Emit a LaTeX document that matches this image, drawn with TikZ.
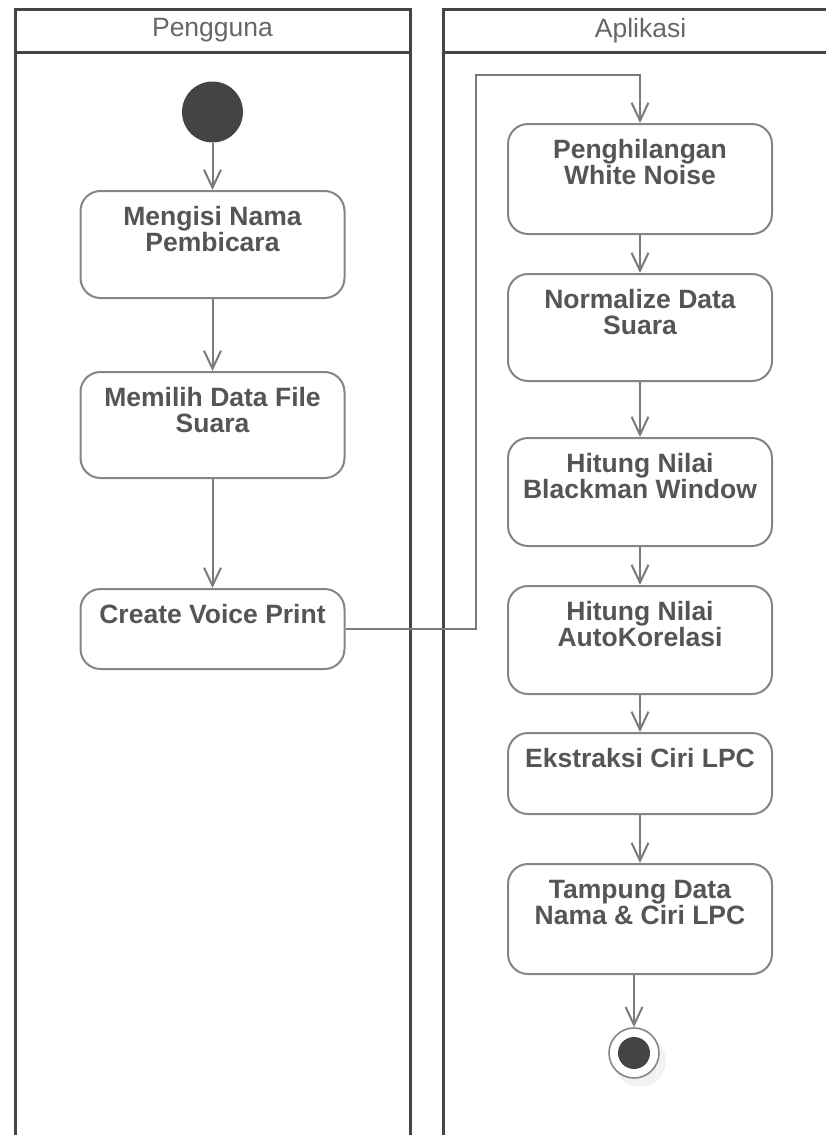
\documentclass[tikz,border=0pt]{standalone}
\usepackage{fontspec}
\setmainfont{Liberation Sans}
\usetikzlibrary{arrows.meta}
\definecolor{lanec}{HTML}{454545}
\definecolor{boxc}{HTML}{858585}
\definecolor{txtc}{HTML}{555555}
\definecolor{hdrc}{HTML}{666666}
\definecolor{arrc}{HTML}{7A7A7A}
\definecolor{dotc}{HTML}{444444}
\newcommand{\acttext}[3]{\parbox[t][#1][t]{#2}{\centering\rule{0pt}{34pt}#3}}
\begin{document}
\begin{tikzpicture}[x=1pt,y=-1pt,
  lane/.style={draw=lanec,line width=3pt},
  lanehead/.style={draw=lanec,line width=3pt,minimum width=395pt,minimum height=43pt,inner sep=0pt,
    text=hdrc,font=\fontsize{26.5}{26.5}\selectfont},
  act/.style={draw=boxc,line width=2pt,rounded corners=20pt,inner sep=0pt,fill=white,
    text=txtc,font=\fontsize{26.5}{26.5}\selectfont\bfseries,anchor=north},
  arr/.style={draw=arrc,line width=2pt,-{Straight Barb[length=18pt,width=17pt,line width=2pt]}},
  startc/.style={circle,fill=dotc,minimum size=61pt,inner sep=0pt},
  endo/.style={circle,draw=boxc,line width=1.6pt,fill=white,minimum size=50pt,inner sep=0pt},
  endi/.style={circle,fill=dotc,minimum size=32pt,inner sep=0pt}]
\useasboundingbox (0,0) rectangle (826,1135);
\clip (0,0) rectangle (826,1135);
\fill[white] (0,0) rectangle (826,1135);
% lanes
\draw[lane] (15,1145) -- (15,30) (410,30) -- (410,1145);
\draw[lane] (443,1145) -- (443,30) (838,30) -- (838,1145);
\node[lanehead] (h1) at (212.5,30.5) {Pengguna};
\node[lanehead] (h2) at (640.5,30.5) {Aplikasi};
% left lane
\node[startc] (s) at (212.5,112) {};
\node[act] (b1) at (212.5,190) {\acttext{107pt}{264pt}{Mengisi Nama\\Pembicara}};
\node[act] (b2) at (212.5,371) {\acttext{106pt}{264pt}{Memilih Data File\\Suara}};
\node[act] (b3) at (212.5,588) {\acttext{80pt}{264pt}{Create Voice Print}};
% right lane
\node[act] (b4) at (640,123) {\acttext{110pt}{264pt}{Penghilangan\\White Noise}};
\node[act] (b5) at (640,273) {\acttext{107pt}{264pt}{Normalize Data\\Suara}};
\node[act] (b6) at (640,437) {\acttext{108pt}{264pt}{Hitung Nilai\\Blackman Window}};
\node[act] (b7) at (640,585) {\acttext{108pt}{264pt}{Hitung Nilai\\AutoKorelasi}};
\node[act] (b8) at (640,732) {\acttext{81pt}{264pt}{Ekstraksi Ciri LPC}};
\node[act] (b9) at (640,863) {\acttext{110pt}{264pt}{Tampung Data\\Nama \& Ciri LPC}};
\fill[black!5] (640,1061) circle (26);
\node[endo] (fin) at (634,1053) {};
\node[endi] (fini) at (fin) {};
% connectors
\coordinate (k1) at (476,75);
\draw[arr] (s) -- (b1);
\draw[arr] (b1) -- (b2);
\draw[arr] (b2) -- (b3);
\draw[arr] (b3.east) -| (k1) -| (b4.north);
\draw[arr] (b4) -- (b5);
\draw[arr] (b5) -- (b6);
\draw[arr] (b6) -- (b7);
\draw[arr] (b7) -- (b8);
\draw[arr] (b8) -- (b9);
\draw[arr] (fin |- b9.south) -- (fin.north);
\end{tikzpicture}
\end{document}
